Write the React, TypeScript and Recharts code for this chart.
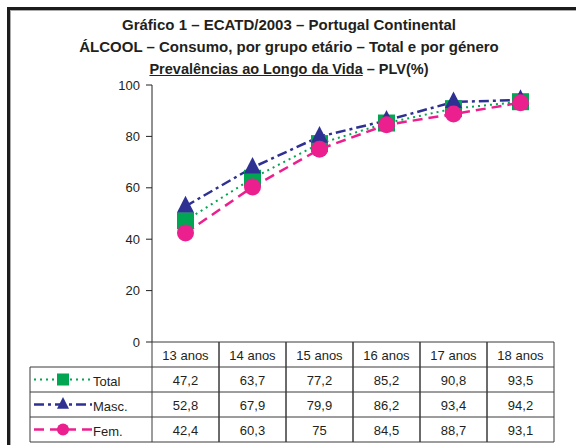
import React from 'react';
import { ComposedChart, Line, XAxis, YAxis } from 'recharts';

const categories = ['13 anos', '14 anos', '15 anos', '16 anos', '17 anos', '18 anos'];
const totalValues = [47.2, 63.7, 77.2, 85.2, 90.8, 93.5];
const mascValues = [52.8, 67.9, 79.9, 86.2, 93.4, 94.2];
const femValues = [42.4, 60.3, 75, 84.5, 88.7, 93.1];
const yTicks = [0, 20, 40, 60, 80, 100];
const seriesNames = ['Total', 'Masc.', 'Fem.'];
const titleLines = [
  'Gráfico 1 – ECATD/2003 – Portugal Continental',
  'ÁLCOOL – Consumo, por grupo etário – Total e por género',
];
const titleUnderlined = 'Prevalências ao Longo da Vida';
const titleTail = ' – PLV(%)';

const GREEN = '#00a651';
const BLUE = '#2e3192';
const PINK = '#ec1f8e';
const INK = '#231f20';
const GRID = '#3a3a3a';
const FONT = '"Liberation Sans", Arial, Helvetica, sans-serif';

const data = categories.map((c, i) => ({
  cat: c,
  total: totalValues[i],
  masc: mascValues[i],
  fem: femValues[i],
}));

const seriesValues = [totalValues, mascValues, femValues];
const fmt = (v: number) => String(v).replace('.', ',');

const HEADER_H = 25;
const ROW_H = 25;
const LEGEND_LEFT = 30;

const Square = ({ cx, cy, s }: { cx: number; cy: number; s: number }) => (
  <rect x={cx - s / 2} y={cy - s / 2} width={s} height={s} fill={GREEN} />
);
const Triangle = ({ cx, cy, s }: { cx: number; cy: number; s: number }) => (
  <polygon
    points={`${cx},${cy - s * 0.62} ${cx - s / 2},${cy + s * 0.36} ${cx + s / 2},${cy + s * 0.36}`}
    fill={BLUE}
  />
);
const Circle = ({ cx, cy, s }: { cx: number; cy: number; s: number }) => (
  <circle cx={cx} cy={cy} r={s / 2} fill={PINK} />
);

const styles = [
  { color: GREEN, dash: '2 4', width: 2, Marker: Square },
  { color: BLUE, dash: '10 4 3 4', width: 2.5, Marker: Triangle },
  { color: PINK, dash: '10 6', width: 2.5, Marker: Circle },
];

const makeDot = (k: number) => (p: any) => {
  const { cx, cy, index } = p;
  if (cx == null || cy == null) return <g key={`d${k}-${index}`} />;
  const M = styles[k].Marker;
  return (
    <g key={`d${k}-${index}`}>
      <M cx={cx} cy={cy} s={17} />
    </g>
  );
};

const TableTick = (props: any) => {
  const { x, y, payload, index, width, visibleTicksCount } = props;
  const n = visibleTicksCount || categories.length;
  const bw = (width || 402) / n;
  const left = x - bw / 2;
  const right = x + bw / 2;
  const top = y;
  const bottom = top + HEADER_H + ROW_H * 3;
  const els: any[] = [];
  els.push(<line key="r" x1={right} y1={top} x2={right} y2={bottom} stroke={GRID} strokeWidth={1} />);
  els.push(<line key="l" x1={left} y1={top} x2={left} y2={bottom} stroke={GRID} strokeWidth={1} />);
  els.push(<line key="t" x1={left} y1={top} x2={right} y2={top} stroke={GRID} strokeWidth={1} />);
  for (let r = 0; r < 4; r++) {
    const yy = top + HEADER_H + ROW_H * r;
    els.push(<line key={`h${r}`} x1={left} y1={yy} x2={right} y2={yy} stroke={GRID} strokeWidth={1} />);
  }
  els.push(
    <text key="hd" x={x} y={top + HEADER_H / 2 + 5} textAnchor="middle" fontSize={13} fontFamily={FONT} fill={INK}>
      {payload.value}
    </text>
  );
  seriesValues.forEach((vals, r) => {
    els.push(
      <text
        key={`v${r}`}
        x={x}
        y={top + HEADER_H + ROW_H * r + ROW_H / 2 + 5}
        textAnchor="middle"
        fontSize={13}
        fontFamily={FONT}
        fill={INK}
      >
        {fmt(vals[index])}
      </text>
    );
  });
  if (index === 0) {
    for (let r = 0; r < 4; r++) {
      const yy = top + HEADER_H + ROW_H * r;
      els.push(<line key={`lh${r}`} x1={LEGEND_LEFT} y1={yy} x2={left} y2={yy} stroke={GRID} strokeWidth={1} />);
    }
    els.push(
      <line key="lv" x1={LEGEND_LEFT} y1={top + HEADER_H} x2={LEGEND_LEFT} y2={bottom} stroke={GRID} strokeWidth={1} />
    );
    seriesNames.forEach((name, r) => {
      const cy = top + HEADER_H + ROW_H * r + ROW_H / 2;
      const st = styles[r];
      const M = st.Marker;
      els.push(
        <g key={`lg${r}`}>
          <line
            x1={LEGEND_LEFT + 4}
            y1={cy}
            x2={LEGEND_LEFT + 62}
            y2={cy}
            stroke={st.color}
            strokeWidth={st.width}
            strokeDasharray={st.dash}
          />
          <M cx={LEGEND_LEFT + 33} cy={cy} s={12} />
          <text x={LEGEND_LEFT + 63} y={cy + 6} fontSize={13} fontFamily={FONT} fill={INK}>
            {name}
          </text>
        </g>
      );
    });
  }
  return <g>{els}</g>;
};

export default function App() {
  return (
    <div style={{ position: 'absolute', left: 0, top: 0, width: 576, height: 445, background: '#fff', overflow: 'hidden' }}>
      <div style={{ position: 'absolute', left: 7, top: 7, width: 569, height: 3, background: '#1c1c1c' }} />
      <div style={{ position: 'absolute', left: 10, top: 10, width: 566, height: 1, background: '#aaa' }} />
      <div style={{ position: 'absolute', left: 7, top: 7, width: 3, height: 438, background: '#1c1c1c' }} />
      <div style={{ position: 'absolute', left: 10, top: 11, width: 1, height: 434, background: '#aaa' }} />
      <div
        style={{
          position: 'absolute',
          left: 0,
          top: 14,
          width: 578,
          textAlign: 'center',
          fontFamily: FONT,
          fontWeight: 'bold',
          fontSize: 15,
          lineHeight: '22px',
          color: INK,
        }}
      >
        <div>{titleLines[0]}</div>
        <div>{titleLines[1]}</div>
        <div style={{ fontSize: 14.5 }}>
          <span style={{ textDecoration: 'underline' }}>{titleUnderlined}</span>
          {titleTail}
        </div>
      </div>
      <div style={{ position: 'absolute', left: 0, top: 0 }}>
        <ComposedChart width={576} height={445} data={data} margin={{ top: 85, right: 22, left: 92, bottom: 3 }}>
          <XAxis
            dataKey="cat"
            scale="band"
            height={100}
            axisLine={false}
            tickLine={false}
            tickSize={0}
            tickMargin={0}
            interval={0}
            tick={<TableTick />}
          />
          <YAxis
            width={60}
            domain={[0, 100]}
            ticks={yTicks}
            interval={0}
            axisLine={{ stroke: '#222', strokeWidth: 1 }}
            tickLine={{ stroke: '#222', strokeWidth: 1 }}
            tickSize={6}
            tickMargin={6}
            tick={{ fontSize: 13, fontFamily: FONT, fill: INK }}
          />
          <Line
            dataKey="total"
            type="linear"
            stroke={GREEN}
            strokeWidth={2}
            strokeDasharray="2 4"
            dot={makeDot(0)}
            activeDot={false}
            isAnimationActive={false}
          />
          <Line
            dataKey="masc"
            type="linear"
            stroke={BLUE}
            strokeWidth={2.5}
            strokeDasharray="10 4 3 4"
            dot={makeDot(1)}
            activeDot={false}
            isAnimationActive={false}
          />
          <Line
            dataKey="fem"
            type="linear"
            stroke={PINK}
            strokeWidth={2.5}
            strokeDasharray="10 6"
            dot={makeDot(2)}
            activeDot={false}
            isAnimationActive={false}
          />
        </ComposedChart>
      </div>
    </div>
  );
}
